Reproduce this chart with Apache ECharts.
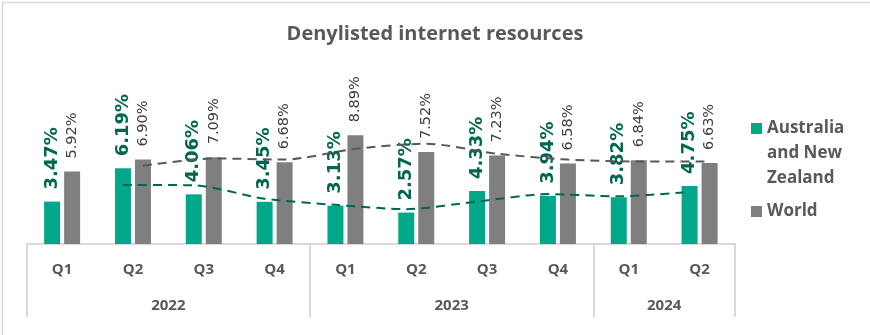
<!DOCTYPE html>
<html><head><meta charset="utf-8">
<script src="https://cdn.jsdelivr.net/npm/echarts@6/dist/echarts.min.js"></script>
<style>html,body{margin:0;padding:0;background:#fff}#c{width:870px;height:335px}</style>
</head><body><div id="c"></div>
<script>
// ---- data ----
const quarters = ['Q1','Q2','Q3','Q4','Q1','Q2','Q3','Q4','Q1','Q2'];
const years = ['2022','2023','2024'];
const quartersPerYear = [4, 4, 2];
const seriesNames = ['Australia and New Zealand', 'World'];
const anzValues = [3.47, 6.19, 4.06, 3.45, 3.13, 2.57, 4.33, 3.94, 3.82, 4.75];
const worldValues = [5.92, 6.90, 7.09, 6.68, 8.89, 7.52, 7.23, 6.58, 6.84, 6.63];
const anzTrend = [null, 4.83, 4.80, 3.70, 3.20, 2.85, 3.47, 4.08, 3.90, 4.25];
const worldTrend = [null, 6.40, 7.00, 6.90, 7.78, 8.20, 7.38, 6.90, 6.75, 6.75];

// ---- derived axis positions for the year level ----
const yearBounds = [0];
quartersPerYear.forEach(n => yearBounds.push(yearBounds[yearBounds.length - 1] + n));
const yearCenters = quartersPerYear.map((n, i) => yearBounds[i] + n / 2);

const L = 26.7, R = 135, T = 121.7, B = 91, OFF = 10;
const TEAL = '#00A88A', GREY = '#7F7F7F';

const chart = echarts.init(document.getElementById('c'), null, {renderer: 'canvas'});
const hiddenCat = (g) => ({type: 'category', gridIndex: g, data: quarters, boundaryGap: true, show: false});
const hiddenVal = (g) => ({type: 'value', gridIndex: g, min: 0, max: 10, show: false});

chart.setOption({
  animation: false,
  backgroundColor: '#fff',
  graphic: [{type: 'rect', left: 0, top: 0, shape: {x: 0.5, y: 0.5, width: 869, height: 334},
    style: {fill: 'none', stroke: '#D9D9D9', lineWidth: 1.5}, silent: true}],
  title: {
    text: 'Denylisted internet resources', left: 'center', top: 19,
    textStyle: {fontFamily: 'Open Sans', fontSize: 20, fontWeight: 'bold', color: '#595959'}
  },
  legend: {
    orient: 'vertical', left: 751, top: 66, padding: 0, itemGap: 8,
    itemWidth: 11, itemHeight: 11, icon: 'rect',
    data: [seriesNames[0], seriesNames[1]],
    formatter: n => n === seriesNames[0] ? '\n\nAustralia\nand New\nZealand' : n,
    textStyle: {fontFamily: 'Open Sans', fontSize: 17, fontWeight: 'bold', color: '#595959', lineHeight: 25}
  },
  grid: [
    {left: L, right: R, top: T, bottom: B},
    {left: L - OFF, right: R + OFF, top: T, bottom: B},
    {left: L + OFF, right: R - OFF, top: T, bottom: B}
  ],
  xAxis: [
    {type: 'category', gridIndex: 0, data: quarters, boundaryGap: true,
      axisLine: {lineStyle: {color: '#D9D9D9', width: 2}}, axisTick: {show: false},
      axisLabel: {margin: 18, fontFamily: 'Open Sans', fontSize: 15, fontWeight: 'bold', color: '#595959'}},
    {type: 'value', gridIndex: 0, min: 0, max: 10, position: 'bottom',
      axisLine: {show: false}, splitLine: {show: false},
      axisTick: {show: true, customValues: yearBounds, length: 73, lineStyle: {color: '#D9D9D9', width: 2}},
      axisLabel: {customValues: yearCenters, margin: 54,
        formatter: v => years[yearCenters.indexOf(v)] || '',
        fontFamily: 'Open Sans', fontSize: 15, fontWeight: 'bold', color: '#595959'}},
    hiddenCat(1), hiddenCat(2)
  ],
  yAxis: [hiddenVal(0), hiddenVal(1), hiddenVal(2)],
  series: [
    {name: seriesNames[0], type: 'bar', xAxisIndex: 0, yAxisIndex: 0, data: anzValues,
      barWidth: 16, barGap: '25%', itemStyle: {color: TEAL},
      label: {show: true, position: 'top', rotate: 90, align: 'left', verticalAlign: 'middle', distance: 12,
        formatter: p => p.value.toFixed(2) + '%',
        fontFamily: 'DejaVu Sans', fontSize: 18, fontWeight: 'bold', color: '#00664F'}},
    {name: seriesNames[1], type: 'bar', xAxisIndex: 0, yAxisIndex: 0, data: worldValues,
      barWidth: 16, barGap: '25%', itemStyle: {color: GREY},
      label: {show: true, position: 'top', rotate: 90, align: 'left', verticalAlign: 'middle', distance: 13,
        formatter: p => p.value.toFixed(2) + '%',
        fontFamily: 'DejaVu Sans', fontSize: 14.5, color: '#404040'}},
    {name: 'anzTrend', type: 'line', xAxisIndex: 2, yAxisIndex: 1, data: anzTrend,
      symbol: 'none', smooth: 0.25, connectNulls: false,
      lineStyle: {color: '#00664F', width: 2, type: [9, 6]}, z: 5},
    {name: 'worldTrend', type: 'line', xAxisIndex: 3, yAxisIndex: 2, data: worldTrend,
      symbol: 'none', smooth: 0.25, connectNulls: false,
      lineStyle: {color: '#595959', width: 2, type: [9, 6]}, z: 5}
  ]
});
</script></body></html>
